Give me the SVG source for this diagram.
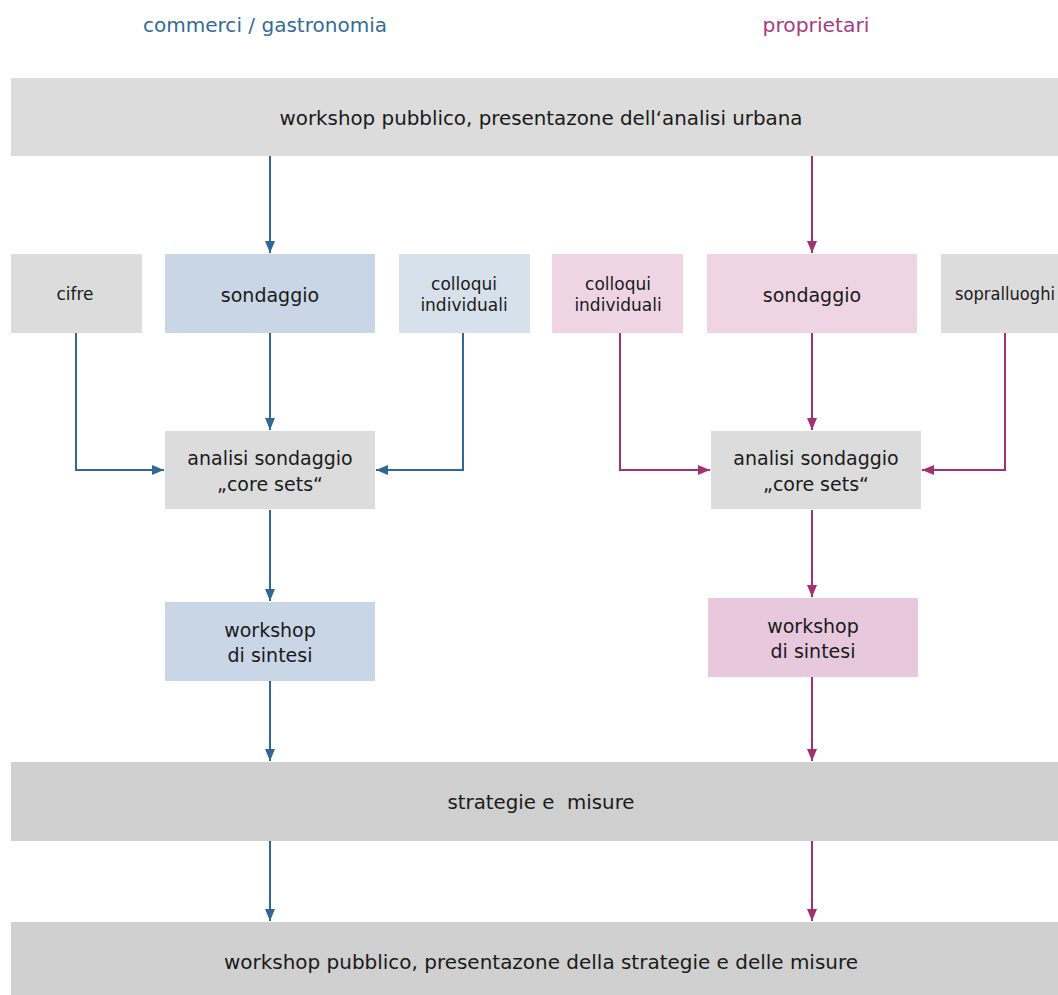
<svg xmlns="http://www.w3.org/2000/svg" width="1058" height="995" viewBox="0 0 1058 995">
<style>
text{font-family:"DejaVu Sans","Liberation Sans",sans-serif;fill:#1a1a1a;text-anchor:middle}
.t19{font-size:19px}
.t20{font-size:20px}
.t17{font-size:17px}
.hd{font-size:20px}
.bl{fill:none;stroke:#2f6894;stroke-width:2}
.mg{fill:none;stroke:#a3306f;stroke-width:2}
.gray{fill:#dcdcdc}
.dark{fill:#d0d0d0}
.blue{fill:#c9d6e5}
.lblue{fill:#d7e1ec}
.pink{fill:#efd5e3}
.pink2{fill:#e8c8dc}
</style>
<defs>
<marker id="ab" viewBox="0 0 12 10" refX="12" refY="5" markerWidth="12" markerHeight="10" markerUnits="userSpaceOnUse" orient="auto"><path d="M0,0 L12,5 L0,10 z" fill="#2f6894"/></marker>
<marker id="am" viewBox="0 0 12 10" refX="12" refY="5" markerWidth="12" markerHeight="10" markerUnits="userSpaceOnUse" orient="auto"><path d="M0,0 L12,5 L0,10 z" fill="#a3306f"/></marker>
</defs>
<rect width="1058" height="995" fill="#ffffff"/>
<g id="labels">
<text class="hd" x="265" y="32" textLength="244" lengthAdjust="spacingAndGlyphs" style="fill:#336b99">commerci / gastronomia</text>
<text class="hd" x="816" y="32" textLength="107" lengthAdjust="spacingAndGlyphs" style="fill:#a93a7f">proprietari</text>
</g>
<g id="connectors">
<path class="bl" d="M270,156 V253" marker-end="url(#ab)"/>
<path class="mg" d="M812,156 V253" marker-end="url(#am)"/>
<path class="bl" d="M270,333 V430" marker-end="url(#ab)"/>
<path class="mg" d="M812,333 V430" marker-end="url(#am)"/>
<path class="bl" d="M76,333 V470 H164" marker-end="url(#ab)"/>
<path class="bl" d="M463,333 V470 H376" marker-end="url(#ab)"/>
<path class="mg" d="M620,333 V470 H710" marker-end="url(#am)"/>
<path class="mg" d="M1005,333 V470 H922" marker-end="url(#am)"/>
<path class="bl" d="M270,510 V601" marker-end="url(#ab)"/>
<path class="mg" d="M812,510 V597" marker-end="url(#am)"/>
<path class="bl" d="M270,681 V761" marker-end="url(#ab)"/>
<path class="mg" d="M812,677 V761" marker-end="url(#am)"/>
<path class="bl" d="M270,841 V921" marker-end="url(#ab)"/>
<path class="mg" d="M812,841 V921" marker-end="url(#am)"/>
</g>
<g id="n-top"><rect class="gray" x="11" y="78" width="1047" height="78"/><text class="t20" x="541" y="125" textLength="523" lengthAdjust="spacingAndGlyphs">workshop pubblico, presentazone dell‘analisi urbana</text></g>
<g id="n-cifre"><rect class="gray" x="11" y="254" width="131" height="79"/><text class="t17" x="75" y="300">cifre</text></g>
<g id="n-sond-l"><rect class="blue" x="165" y="254" width="210" height="79"/><text class="t19" x="270" y="302">sondaggio</text></g>
<g id="n-coll-l"><rect class="lblue" x="399" y="254" width="131" height="79"/><text class="t17" x="464" y="290">colloqui</text><text class="t17" x="464" y="311">individuali</text></g>
<g id="n-coll-r"><rect class="pink" x="552" y="254" width="131" height="79"/><text class="t17" x="618" y="290">colloqui</text><text class="t17" x="618" y="311">individuali</text></g>
<g id="n-sond-r"><rect class="pink" x="707" y="254" width="210" height="79"/><text class="t19" x="812" y="302">sondaggio</text></g>
<g id="n-sopra"><rect class="gray" x="941" y="254" width="117" height="79"/><text class="t17" x="1005" y="300" textLength="100" lengthAdjust="spacingAndGlyphs">sopralluoghi</text></g>
<g id="n-anal-l"><rect class="gray" x="165" y="431" width="210" height="78"/><text class="t19" x="270" y="465">analisi sondaggio</text><text class="t19" x="270" y="491">„core sets“</text></g>
<g id="n-anal-r"><rect class="gray" x="711" y="431" width="210" height="78"/><text class="t19" x="816" y="465">analisi sondaggio</text><text class="t19" x="816" y="491">„core sets“</text></g>
<g id="n-ws-l"><rect class="blue" x="165" y="602" width="210" height="79"/><text class="t19" x="270" y="637">workshop</text><text class="t19" x="270" y="662">di sintesi</text></g>
<g id="n-ws-r"><rect class="pink2" x="708" y="598" width="210" height="79"/><text class="t19" x="813" y="633">workshop</text><text class="t19" x="813" y="658">di sintesi</text></g>
<g id="n-strat"><rect class="dark" x="11" y="762" width="1047" height="79"/><text class="t20" x="541" y="809" xml:space="preserve" textLength="187" lengthAdjust="spacingAndGlyphs">strategie e  misure</text></g>
<g id="n-bottom"><rect class="dark" x="11" y="922" width="1047" height="73"/><text class="t20" x="541" y="969" textLength="634" lengthAdjust="spacingAndGlyphs">workshop pubblico, presentazone della strategie e delle misure</text></g>
</svg>
